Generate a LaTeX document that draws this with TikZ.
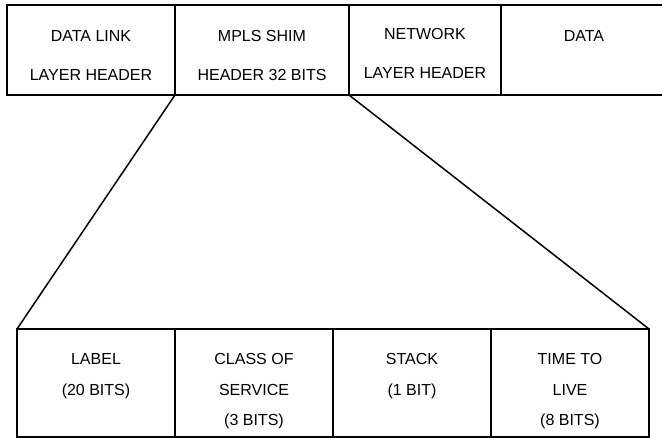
\documentclass[tikz,border=0pt]{standalone}
\usepackage{fontspec}
\setmainfont{Liberation Sans}
\usetikzlibrary{positioning}

\begin{document}
\begin{tikzpicture}[
  x=1pt, y=1pt,
  hdr/.style={draw, line width=1.5pt, outer sep=0pt, inner sep=0pt,
    minimum height=90pt},
  fld/.style={draw, line width=1.5pt, outer sep=0pt, inner sep=0pt,
    minimum width=158pt, minimum height=108pt},
  hdrtxt/.style={inner sep=0pt, align=center,
    font=\fontsize{16}{39}\selectfont},
  fldtxt/.style={inner sep=0pt, align=center,
    font=\fontsize{16}{30.5}\selectfont},
  link/.style={line width=1.5pt}
]
\clip (0,0) rectangle (662,438);
\node[hdr, minimum width=168pt, anchor=north west] (dll) at (7,433) {};
\node[hdr, minimum width=174pt, right=0pt of dll] (shim) {};
\node[hdr, minimum width=152pt, right=0pt of shim] (net) {};
\node[hdr, minimum width=166pt, right=0pt of net] (data) {};
\node[hdrtxt, below=25pt of dll.north] (dlltxt) {DATA LINK\\LAYER HEADER};
\node[hdrtxt, below=25pt of shim.north] (shimtxt) {MPLS SHIM\\HEADER 32 BITS};
\node[hdrtxt, below=23pt of net.north] (nettxt) {NETWORK\\LAYER HEADER};
\node[hdrtxt, below=25pt of data.north] (datatxt) {DATA};

\node[fld, anchor=north west] (label) at (17,109) {};
\node[fld, right=0pt of label] (cos) {};
\node[fld, right=0pt of cos] (stack) {};
\node[fld, right=0pt of stack] (ttl) {};
\node[fldtxt, below=24.5pt of label.north] (labeltxt) {LABEL\\(20 BITS)};
\node[fldtxt, below=24.5pt of cos.north] (costxt) {CLASS OF\\SERVICE\\(3 BITS)};
\node[fldtxt, below=24.5pt of stack.north] (stacktxt) {STACK\\(1 BIT)};
\node[fldtxt, below=24.5pt of ttl.north] (ttltxt) {TIME TO\\LIVE\\(8 BITS)};

\draw[link] (shim.south west) -- (label.north west);
\draw[link] (shim.south east) -- (ttl.north east);
\end{tikzpicture}
\end{document}
